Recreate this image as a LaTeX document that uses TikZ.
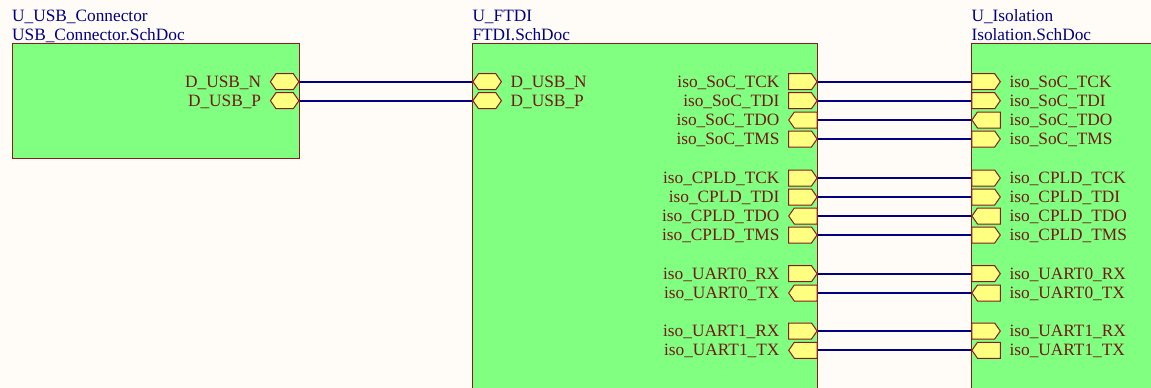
\documentclass[tikz,border=0pt]{standalone}
\usepackage{fontspec}
\setmainfont{Liberation Serif}
\usetikzlibrary{shapes.symbols}
\definecolor{paper}{HTML}{FFFCF8}
\definecolor{sheetfill}{HTML}{80FF80}
\definecolor{sheetline}{HTML}{8B1A1A}
\definecolor{portfill}{HTML}{FFFF80}
\definecolor{netblue}{HTML}{000080}
\tikzset{
  sheet/.style={draw=sheetline,fill=sheetfill,line width=1pt},
  title/.style={anchor=base west,inner sep=0pt,text=netblue,font=\fontsize{17.3}{17.3}\selectfont},
  port/.style={shape=signal,draw=sheetline,fill=portfill,line width=1pt,inner sep=0pt,
    minimum width=28.5pt,minimum height=16pt,signal pointer angle=110},
  portbi/.style={port,signal to=east and west},
  portright/.style={port,signal to=east},
  portleft/.style={port,signal to=west},
  porttext/.style={inner sep=0pt,text=sheetline!85!black,text height=12pt,text depth=1pt,
    font=\fontsize{17.3}{17.3}\selectfont},
  lt/.style={label={[porttext,xshift=-8.5pt]left:#1}},
  rt/.style={label={[porttext,xshift=8.5pt]right:#1}},
  net/.style={draw=netblue,line width=2pt},
}
\begin{document}
\begin{tikzpicture}[x=1pt,y=-1pt]
\path [use as bounding box,fill=paper] (0,0) rectangle (1151,388);
%%%%%%%%%
\draw [sheet] (12,43.5) rectangle (299.5,158.5);
\node [title] (usb_name) at (12,21) {U\_USB\_Connector};
\node [title] (usb_file) at (12,40) {USB\_Connector.SchDoc};
\node [portbi,anchor=east,lt={D\_USB\_N}] (usb_n) at (299.5,81.7) {};
\node [portbi,anchor=east,lt={D\_USB\_P}] (usb_p) at (299.5,100.7) {};
%%%%%%%%%
\draw [sheet] (472.3,43.5) rectangle (817.7,395);
\node [title] (ftdi_name) at (472.3,21) {U\_FTDI};
\node [title] (ftdi_file) at (472.3,40) {FTDI.SchDoc};
\node [portbi,anchor=west,rt={D\_USB\_N}] (ftdi_n) at (472.3,81.7) {};
\node [portbi,anchor=west,rt={D\_USB\_P}] (ftdi_p) at (472.3,100.7) {};
\node [portright,anchor=east,lt={iso\_SoC\_TCK}] (ftdi_a1) at (817.7,81.7) {};
\node [portright,anchor=east,lt={iso\_SoC\_TDI}] (ftdi_a2) at (817.7,100.7) {};
\node [portleft,anchor=east,lt={iso\_SoC\_TDO}] (ftdi_a3) at (817.7,120) {};
\node [portright,anchor=east,lt={iso\_SoC\_TMS}] (ftdi_a4) at (817.7,139) {};
\node [portright,anchor=east,lt={iso\_CPLD\_TCK}] (ftdi_b1) at (817.7,178) {};
\node [portright,anchor=east,lt={iso\_CPLD\_TDI}] (ftdi_b2) at (817.7,197) {};
\node [portleft,anchor=east,lt={iso\_CPLD\_TDO}] (ftdi_b3) at (817.7,216) {};
\node [portright,anchor=east,lt={iso\_CPLD\_TMS}] (ftdi_b4) at (817.7,235) {};
\node [portright,anchor=east,lt={iso\_UART0\_RX}] (ftdi_c1) at (817.7,273.7) {};
\node [portleft,anchor=east,lt={iso\_UART0\_TX}] (ftdi_c2) at (817.7,293) {};
\node [portright,anchor=east,lt={iso\_UART1\_RX}] (ftdi_d1) at (817.7,331) {};
\node [portleft,anchor=east,lt={iso\_UART1\_TX}] (ftdi_d2) at (817.7,350.3) {};
%%%%%%%%%
\draw [sheet] (971.3,43.5) rectangle (1160,395);
\node [title] (iso_name) at (971.3,21) {U\_Isolation};
\node [title] (iso_file) at (971.3,40) {Isolation.SchDoc};
\node [portright,anchor=west,rt={iso\_SoC\_TCK}] (iso_a1) at (971.3,81.7) {};
\node [portright,anchor=west,rt={iso\_SoC\_TDI}] (iso_a2) at (971.3,100.7) {};
\node [portleft,anchor=west,rt={iso\_SoC\_TDO}] (iso_a3) at (971.3,120) {};
\node [portright,anchor=west,rt={iso\_SoC\_TMS}] (iso_a4) at (971.3,139) {};
\node [portright,anchor=west,rt={iso\_CPLD\_TCK}] (iso_b1) at (971.3,178) {};
\node [portright,anchor=west,rt={iso\_CPLD\_TDI}] (iso_b2) at (971.3,197) {};
\node [portleft,anchor=west,rt={iso\_CPLD\_TDO}] (iso_b3) at (971.3,216) {};
\node [portright,anchor=west,rt={iso\_CPLD\_TMS}] (iso_b4) at (971.3,235) {};
\node [portright,anchor=west,rt={iso\_UART0\_RX}] (iso_c1) at (971.3,273.7) {};
\node [portleft,anchor=west,rt={iso\_UART0\_TX}] (iso_c2) at (971.3,293) {};
\node [portright,anchor=west,rt={iso\_UART1\_RX}] (iso_d1) at (971.3,331) {};
\node [portleft,anchor=west,rt={iso\_UART1\_TX}] (iso_d2) at (971.3,350.3) {};
%%%%%%%%%
\draw [net] (usb_n.east) -- (ftdi_n.west);
\draw [net] (usb_p.east) -- (ftdi_p.west);
\draw [net] (ftdi_a1.east) -- (iso_a1.west);
\draw [net] (ftdi_a2.east) -- (iso_a2.west);
\draw [net] (ftdi_a3.east) -- (iso_a3.west);
\draw [net] (ftdi_a4.east) -- (iso_a4.west);
\draw [net] (ftdi_b1.east) -- (iso_b1.west);
\draw [net] (ftdi_b2.east) -- (iso_b2.west);
\draw [net] (ftdi_b3.east) -- (iso_b3.west);
\draw [net] (ftdi_b4.east) -- (iso_b4.west);
\draw [net] (ftdi_c1.east) -- (iso_c1.west);
\draw [net] (ftdi_c2.east) -- (iso_c2.west);
\draw [net] (ftdi_d1.east) -- (iso_d1.west);
\draw [net] (ftdi_d2.east) -- (iso_d2.west);
\end{tikzpicture}
\end{document}
